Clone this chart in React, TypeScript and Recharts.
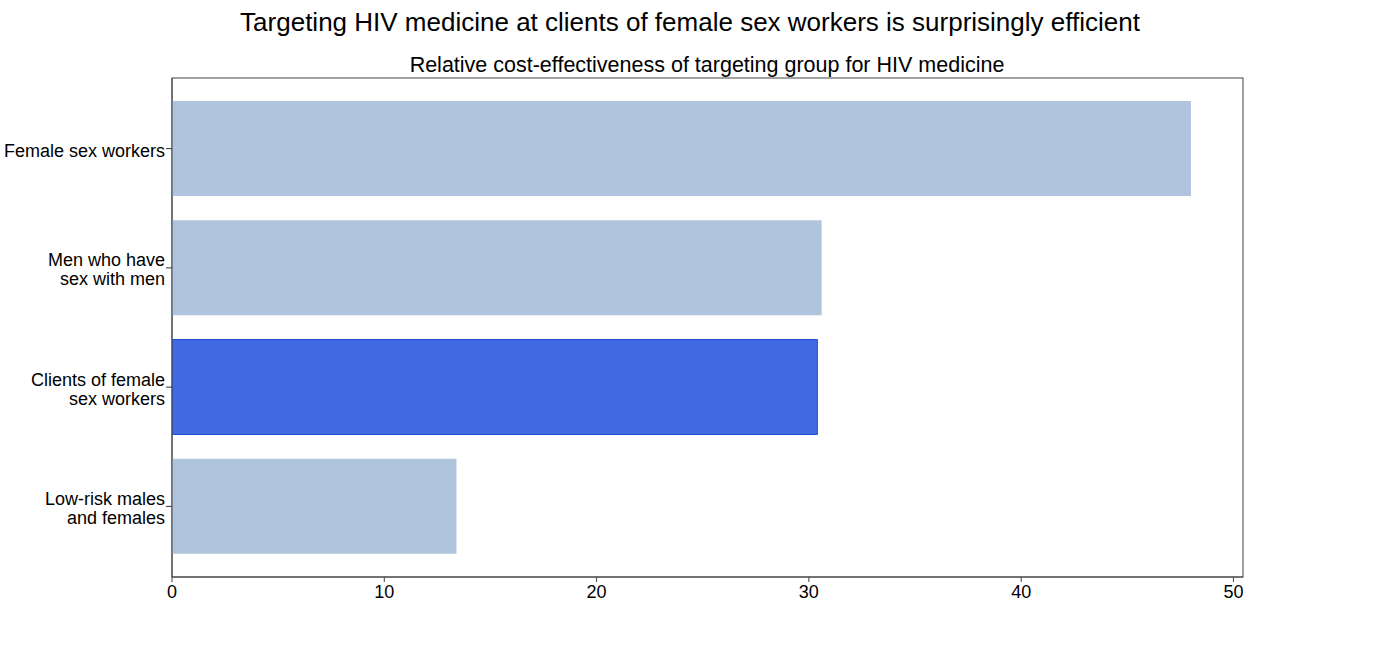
import React from "react";
import { BarChart, Bar, XAxis, YAxis, Cell, Customized } from "recharts";

const categories = [
  "Female sex workers",
  "Men who have\nsex with men",
  "Clients of female\nsex workers",
  "Low-risk males\nand females",
];
const values = [48.0, 30.6, 30.4, 13.4];
const highlighted = [false, false, true, false];
const xTicks = [0, 10, 20, 30, 40, 50];

const title = "Targeting HIV medicine at clients of female sex workers is surprisingly efficient";
const subtitle = "Relative cost-effectiveness of targeting group for HIV medicine";

const data = categories.map((c, i) => ({ name: c, value: values[i], hi: highlighted[i] }));

const FONT = "Liberation Sans, Arial, sans-serif";
const W = 1380;
const H = 649;
const M = { top: 78, right: 137, bottom: 32, left: 0 };
const YW = 172;
const XH = 40;

const YTick = (props: any) => {
  const { x, y, payload } = props;
  const lines = String(payload.value).split("\n");
  const lh = 19;
  const start = -((lines.length - 1) * lh) / 2;
  return (
    <g>
      <line x1={x + 2} x2={x + 8} y1={y} y2={y} stroke="#333" strokeWidth={1} />
      <text x={x + 1} y={y} textAnchor="end" fontFamily={FONT} fontSize={18} fill="#000">
        {lines.map((l, i) => (
          <tspan key={i} x={x + 1} dy={i === 0 ? start + 8 : lh}>
            {l}
          </tspan>
        ))}
      </text>
    </g>
  );
};

const Decor = () => {
  const px = M.left + YW;
  const py = M.top;
  const pw = W - M.right - px;
  const ph = H - M.bottom - XH - py;
  return (
    <g>
      <rect x={px} y={py} width={pw} height={ph} fill="none" stroke="#444" strokeWidth={1} />
      <text x={690} y={31} textAnchor="middle" fontFamily={FONT} fontSize={26} fill="#000">
        {title}
      </text>
      <text x={707} y={72} textAnchor="middle" fontFamily={FONT} fontSize={21.5} fill="#000">
        {subtitle}
      </text>
    </g>
  );
};

export default function App() {
  return (
    <div style={{ position: "absolute", left: 0, top: 0, background: "#fff" }}>
      <BarChart
        width={W}
        height={H}
        data={data}
        layout="vertical"
        margin={M}
        barCategoryGap="10%"
      >
        <XAxis
          type="number"
          dataKey="value"
          domain={[0, 50.45]}
          ticks={xTicks}
          allowDataOverflow
          axisLine={{ stroke: "#444" }}
          tickLine={{ stroke: "#444" }}
          tickSize={5}
          tickMargin={3}
          tick={{ fontFamily: FONT, fontSize: 18, fill: "#000" }}
          height={XH}
        />
        <YAxis
          type="category"
          dataKey="name"
          width={YW}
          axisLine={{ stroke: "#444" }}
          tickLine={false}
          tick={<YTick />}
          padding={{ top: 11, bottom: 11 }}
          interval={0}
        />
        <Bar dataKey="value" isAnimationActive={false} barSize={95}>
          {data.map((d, i) => (
            <Cell
              key={i}
              fill={d.hi ? "#4169E1" : "#B0C4DE"}
              stroke={d.hi ? "#1f4fd8" : "none"}
              strokeWidth={d.hi ? 1 : 0}
            />
          ))}
        </Bar>
        <Customized component={Decor} />
      </BarChart>
    </div>
  );
}
